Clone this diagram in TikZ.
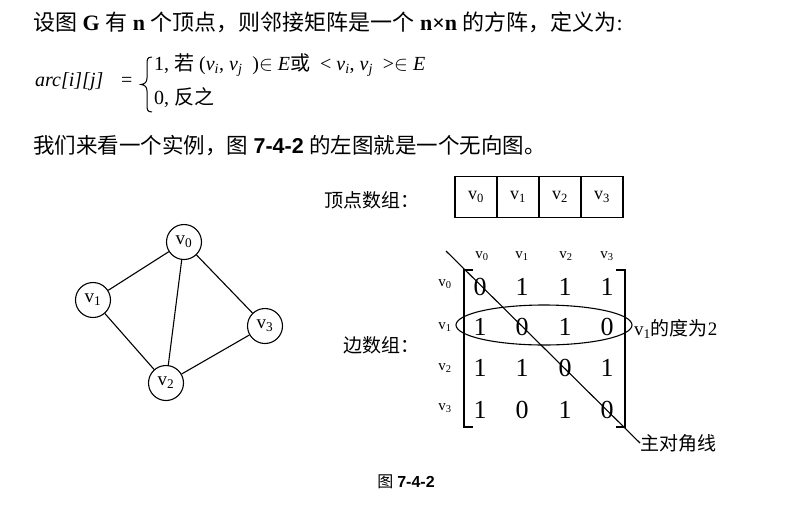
\documentclass[tikz,border=0pt]{standalone}
\usepackage{fontspec}
\setmainfont{Liberation Serif}
\newfontfamily\cjk{Noto Sans CJK SC}
\newfontfamily\hei{Liberation Sans}
\usetikzlibrary{shapes.geometric}
\newcommand{\vv}[1]{\textit{v}\textsubscript{\textit{#1}}}
\begin{document}
\begin{tikzpicture}[x=1pt,y=-1pt,
  txt/.style={inner sep=0pt,font=\fontsize{21.5}{24}\selectfont},
  frm/.style={inner sep=0pt,font=\fontsize{20}{22}\selectfont},
  lbl/.style={inner sep=0pt,font=\fontsize{19}{22}\selectfont},
  vtx/.style={circle,draw,line width=1.1pt,minimum size=35pt,inner sep=0pt,font=\fontsize{19}{22}\selectfont},
  cell/.style={rectangle,draw,line width=1.1pt,minimum width=42pt,minimum height=41pt,inner sep=0pt,font=\fontsize{18}{20}\selectfont},
  hdr/.style={inner sep=0pt,font=\fontsize{15}{17}\selectfont},
  ent/.style={inner sep=0pt,font=\fontsize{26}{28}\selectfont},
  edge/.style={line width=1.1pt}]
\useasboundingbox (0,0) rectangle (798,504);
% text
\node[txt,anchor=west,font=\fontsize{22}{24}\selectfont] (t1) at (33,22) {{\cjk 设图} \textbf{G} {\cjk 有} \textbf{n} {\cjk 个顶点，则邻接矩阵是一个} \textbf{n×n} {\cjk 的方阵，定义为}:};
\node[frm,anchor=west] (arc) at (35,82) {\textit{arc[i][j]}};
\node[frm,anchor=west] (eq) at (121,82) {=};
% brace
\draw[line width=1pt] (152,57) .. controls (147,57) and (147,60) .. (147,64) -- (147,78)
  .. controls (147,82) and (145,84) .. (141,84.5) .. controls (145,85) and (147,87) .. (147,91)
  -- (147,105) .. controls (147,109) and (147,112) .. (152,112);
\node[frm,anchor=west] (r1) at (154,65) {1, {\cjk 若} (\vv{i}, \vv{j}\ \ )$\in$ \textit{E}{\cjk 或} \ < \vv{i}, \vv{j} \ >$\in$ \textit{E}};
\node[frm,anchor=west] (r2) at (154,98) {0, {\cjk 反之}};
\node[txt,anchor=west] (t3) at (33,146) {{\cjk 我们来看一个实例，图} {\hei\bfseries 7-4-2} {\cjk 的左图就是一个无向图。}};
% graph
\node[vtx] (v0) at (184,242) {v\textsubscript{0}};
\node[vtx] (v1) at (93,300) {v\textsubscript{1}};
\node[vtx] (v2) at (166,383) {v\textsubscript{2}};
\node[vtx] (v3) at (265,326) {v\textsubscript{3}};
\draw[edge] (v0) -- (v1);
\draw[edge] (v0) -- (v2);
\draw[edge] (v0) -- (v3);
\draw[edge] (v1) -- (v2);
\draw[edge] (v2) -- (v3);
% vertex array
\node[lbl] (vlab) at (372,200) {\cjk 顶点数组：};
\node[cell] (c0) at (476,197) {v\textsubscript{0}};
\node[cell] (c1) at (518,197) {v\textsubscript{1}};
\node[cell] (c2) at (560,197) {v\textsubscript{2}};
\node[cell] (c3) at (602,197) {v\textsubscript{3}};
% matrix headers
\node[hdr] (h0) at (482,256) {v\textsubscript{0}};
\node[hdr] (h1) at (522,256) {v\textsubscript{1}};
\node[hdr] (h2) at (566,256) {v\textsubscript{2}};
\node[hdr] (h3) at (607,256) {v\textsubscript{3}};
\node[hdr] (g0) at (445,284) {v\textsubscript{0}};
\node[hdr] (g1) at (445,327) {v\textsubscript{1}};
\node[hdr] (g2) at (445,368) {v\textsubscript{2}};
\node[hdr] (g3) at (445,408) {v\textsubscript{3}};
% entries
\node[ent] (m00) at (480,287) {0};
\node[ent] (m01) at (522,287) {1};
\node[ent] (m02) at (565,287) {1};
\node[ent] (m03) at (607,287) {1};
\node[ent] (m10) at (480,327) {1};
\node[ent] (m11) at (522,327) {0};
\node[ent] (m12) at (565,327) {1};
\node[ent] (m13) at (607,327) {0};
\node[ent] (m20) at (480,368) {1};
\node[ent] (m21) at (522,368) {1};
\node[ent] (m22) at (565,368) {0};
\node[ent] (m23) at (607,368) {1};
\node[ent] (m30) at (480,410) {1};
\node[ent] (m31) at (522,410) {0};
\node[ent] (m32) at (565,410) {1};
\node[ent] (m33) at (607,410) {0};
% brackets
\draw[edge] (473,270) -- (464,270) -- (464,427) -- (473,427);
\draw[edge] (616,270) -- (625,270) -- (625,427) -- (616,427);
% ellipse
\node[ellipse,draw,line width=1.1pt,minimum width=176pt,minimum height=40pt,inner sep=0pt] (ell) at (544,325) {};
\node[lbl,anchor=west] (deg) at (634,329) {v\textsubscript{1}{\cjk 的度为}2};
\node[lbl] (elab) at (381,345) {\cjk 边数组：};
% diagonal
\coordinate (d0) at (446,251);
\node[lbl,anchor=west] (diag) at (640,443) {\cjk 主对角线};
\draw[edge] (d0) -- (diag.west);
% caption
\node[inner sep=0pt,font=\fontsize{16}{18}\selectfont] (cap) at (406,482) {{\cjk 图} {\hei\bfseries 7-4-2}};
\end{tikzpicture}
\end{document}
